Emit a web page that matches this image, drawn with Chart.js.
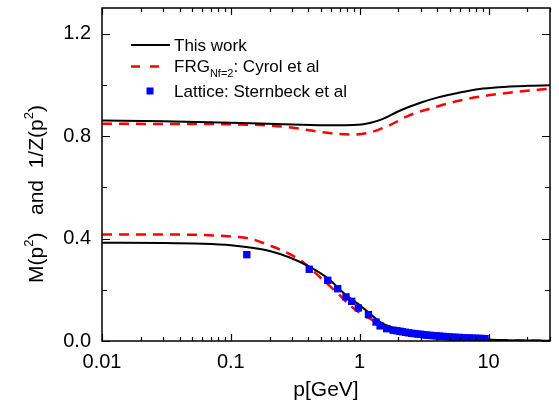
<!DOCTYPE html>
<html>
<head>
<meta charset="utf-8">
<title>M(p2) and 1/Z(p2)</title>
<script src="https://cdn.jsdelivr.net/npm/chart.js@4.4.1/dist/chart.umd.min.js"></script>
<style>
    body { margin: 0; background: #ffffff; }
    #chart_mass { display: block; }
</style>
</head>
<body>
<canvas id="chart_mass" width="559" height="407"></canvas>
<script>
    // 1/Z(p^2), this work
    const zThisP = [0.01, 0.03, 0.1, 0.3, 0.6, 0.9, 1.2, 1.5, 2, 3, 4, 6, 8.5, 12, 20, 30];
    const zThisV = [0.861, 0.858, 0.852, 0.845, 0.842, 0.843, 0.851, 0.866, 0.897, 0.931, 0.950, 0.970, 0.984, 0.991, 0.996, 0.998];
    // 1/Z(p^2), FRG Nf=2
    const zFrgP = [0.01, 0.05, 0.1, 0.2, 0.34, 0.49, 0.7, 0.9, 1.2, 1.7, 2.4, 3.5, 6, 10, 16, 30];
    const zFrgV = [0.848, 0.847, 0.846, 0.841, 0.829, 0.816, 0.808, 0.806, 0.814, 0.842, 0.880, 0.907, 0.939, 0.959, 0.972, 0.985];
    // M(p^2), this work
    const mThisP = [0.01, 0.03, 0.06, 0.1, 0.15, 0.2, 0.29, 0.41, 0.57, 0.79, 1.0, 1.2, 1.44, 1.75, 2.2, 3.0, 4.5, 7, 12, 30];
    const mThisV = [0.384, 0.383, 0.380, 0.374, 0.363, 0.351, 0.325, 0.289, 0.243, 0.178, 0.140, 0.107, 0.074, 0.055, 0.042, 0.028, 0.016, 0.009, 0.004, 0.001];
    // M(p^2), FRG Nf=2
    const mFrgP = [0.01, 0.05, 0.1, 0.14, 0.2, 0.29, 0.365, 0.49, 0.66, 0.87, 1.2, 1.6, 2.2, 3.2, 5, 10, 30];
    const mFrgV = [0.416, 0.415, 0.408, 0.400, 0.373, 0.338, 0.306, 0.250, 0.191, 0.133, 0.087, 0.058, 0.036, 0.021, 0.011, 0.004, 0.001];
    // lattice, Sternbeck et al
    const latticeP = [0.133, 0.406, 0.565, 0.675, 0.783, 0.867, 0.976, 1.17, 1.34, 1.44, 1.62, 1.82,
        1.95, 2.05, 2.15, 2.27, 2.4, 2.53, 2.67, 2.82, 2.98, 3.15, 3.33, 3.52, 3.72, 3.94, 4.17,
        4.41, 4.67, 4.95, 5.25, 5.56, 5.9, 6.25, 6.63, 7.03, 7.45, 7.9, 8.38, 8.88, 9.4];
    const latticeV = [0.337, 0.280, 0.237, 0.204, 0.172, 0.155, 0.129, 0.103, 0.074, 0.059, 0.048, 0.042,
        0.040, 0.038, 0.036, 0.034, 0.032, 0.030, 0.029, 0.027, 0.026, 0.024, 0.023, 0.022, 0.021, 0.020, 0.019,
        0.018, 0.017, 0.016, 0.015, 0.014, 0.014, 0.013, 0.012, 0.012, 0.011, 0.011, 0.010, 0.010, 0.009];

    const xTickLabels = ['0.01', '0.1', '1', '10'];
    const yTickLabels = ['0.0', '0.4', '0.8', '1.2'];

    const FONT = '"Liberation Sans", Arial, Helvetica, sans-serif';

    function toXY(p, v) {
        return p.map((x, i) => ({ x: x, y: v[i] }));
    }

    function isDecade(value) {
        const l = Math.log10(value);
        return Math.abs(l - Math.round(l)) < 1e-6;
    }

    // only 1..9 x 10^n get a tick mark
    function isLogStep(value) {
        const s = value / Math.pow(10, Math.floor(Math.log10(value) + 1e-9));
        return Math.abs(s - Math.round(s)) < 1e-6;
    }

    function isYMajor(value) {
        return yTickLabels.some(t => Math.abs(parseFloat(t) - value) < 1e-6);
    }

    // frame with inward ticks on all four sides, legend, axis titles
    const framePlugin = {
        id: 'frame',
        afterDraw(chart) {
            const ctx = chart.ctx;
            const a = chart.chartArea;
            const sx = chart.scales.x;
            const sy = chart.scales.y;
            ctx.save();
            ctx.strokeStyle = '#000000';
            ctx.lineWidth = 1.5;
            ctx.strokeRect(a.left, a.top, a.right - a.left, a.bottom - a.top);
            ctx.lineWidth = 1.2;
            ctx.beginPath();
            sx.ticks.forEach(t => {
                if (!isLogStep(t.value)) return;
                const px = Math.round(sx.getPixelForValue(t.value)) + 0.5;
                const len = isDecade(t.value) ? 7 : 4;
                ctx.moveTo(px, a.bottom); ctx.lineTo(px, a.bottom - len);
                ctx.moveTo(px, a.top); ctx.lineTo(px, a.top + len);
            });
            sy.ticks.forEach(t => {
                if (t.value > 1.21) return;
                const py = Math.round(sy.getPixelForValue(t.value)) + 0.5;
                const len = isYMajor(t.value) ? 8 : 5;
                ctx.moveTo(a.left, py); ctx.lineTo(a.left + len, py);
                ctx.moveTo(a.right, py); ctx.lineTo(a.right - len, py);
            });
            ctx.stroke();

            // legend
            ctx.fillStyle = '#000000';
            ctx.textBaseline = 'alphabetic';
            ctx.textAlign = 'left';
            ctx.lineWidth = 2;
            ctx.beginPath();
            ctx.moveTo(131, 45); ctx.lineTo(170, 45);
            ctx.stroke();
            ctx.font = '17px ' + FONT;
            ctx.fillText('This work', 174, 51);

            ctx.strokeStyle = '#ff0000';
            ctx.lineWidth = 2.5;
            ctx.setLineDash([9, 10]);
            ctx.beginPath();
            ctx.moveTo(131, 66.5); ctx.lineTo(162, 66.5);
            ctx.stroke();
            ctx.setLineDash([]);
            let tx = 174;
            ctx.fillText('FRG', tx, 72);
            tx += ctx.measureText('FRG').width;
            ctx.font = '11px ' + FONT;
            ctx.fillText('Nf=2', tx, 77);
            tx += ctx.measureText('Nf=2').width;
            ctx.font = '17px ' + FONT;
            ctx.fillText(': Cyrol et al', tx, 72);

            ctx.fillStyle = '#0000ff';
            ctx.fillRect(146.5, 87.5, 7, 7);
            ctx.fillStyle = '#000000';
            ctx.fillText('Lattice: Sternbeck et al', 174, 97);

            // x title
            ctx.font = '21px ' + FONT;
            ctx.textAlign = 'center';
            ctx.fillText('p[GeV]', (a.left + a.right) / 2, 396);

            // y title with superscripts, reading upward
            const parts = [['M(p', 21, 0], ['2', 13, 10], [')   and  1/Z(p', 21, 0], ['2', 13, 10], [')', 21, 0]];
            let total = 0;
            parts.forEach(p => { ctx.font = p[1] + 'px ' + FONT; total += ctx.measureText(p[0]).width; });
            ctx.translate(43, 194);
            ctx.rotate(-Math.PI / 2);
            ctx.textAlign = 'left';
            let ux = -total / 2;
            parts.forEach(p => {
                ctx.font = p[1] + 'px ' + FONT;
                ctx.fillText(p[0], ux, -p[2]);
                ux += ctx.measureText(p[0]).width;
            });
            ctx.restore();
        }
    };

    const lineStyle = { pointRadius: 0, fill: false, cubicInterpolationMode: 'monotone' };

    const ctxM = document.getElementById('chart_mass');
    new Chart(ctxM, {
        type: 'line',
        data: {
            datasets: [{
                label: 'Lattice: Sternbeck et al',
                data: toXY(latticeP, latticeV),
                showLine: false,
                pointStyle: 'rect',
                pointRadius: 5.2,
                pointBorderWidth: 0,
                pointBackgroundColor: '#0000ff',
                pointBorderColor: '#0000ff'
            }, {
                label: 'This work',
                data: toXY(mThisP, mThisV),
                borderColor: '#000000',
                borderWidth: 2,
                ...lineStyle
            }, {
                label: 'This work',
                data: toXY(zThisP, zThisV),
                borderColor: '#000000',
                borderWidth: 2,
                ...lineStyle
            }, {
                label: 'FRG Nf=2: Cyrol et al',
                data: toXY(mFrgP, mFrgV),
                borderColor: '#ff0000',
                borderWidth: 2.5,
                borderDash: [10, 7],
                ...lineStyle
            }, {
                label: 'FRG Nf=2: Cyrol et al',
                data: toXY(zFrgP, zFrgV),
                borderColor: '#ff0000',
                borderWidth: 2.5,
                borderDash: [10, 7],
                ...lineStyle
            }]
        },
        options: {
            responsive: false,
            animation: false,
            layout: {
                padding: { top: 8, right: 9, left: 0, bottom: 0 }
            },
            plugins: {
                legend: { display: false },
                tooltip: { enabled: false }
            },
            scales: {
                x: {
                    type: 'logarithmic',
                    min: 0.01,
                    max: 30,
                    grid: { display: false, drawTicks: false },
                    border: { display: false },
                    ticks: {
                        autoSkip: false,
                        maxRotation: 0,
                        padding: 9,
                        color: '#000000',
                        font: { family: FONT, size: 20 },
                        callback: function (value) {
                            if (!isDecade(value)) return '';
                            const i = Math.round(Math.log10(value)) + 2;
                            return xTickLabels[i] || '';
                        }
                    },
                    afterFit: function (scale) {
                        scale.height = 66;
                        scale.paddingLeft = 0;
                        scale.paddingRight = 0;
                    }
                },
                y: {
                    min: 0,
                    max: 1.3,
                    grid: { display: false, drawTicks: false },
                    border: { display: false },
                    ticks: {
                        stepSize: 0.2,
                        autoSkip: false,
                        padding: 11,
                        color: '#000000',
                        font: { family: FONT, size: 20 },
                        callback: function (value) {
                            const t = yTickLabels.find(s => Math.abs(parseFloat(s) - value) < 1e-6);
                            return t || '';
                        }
                    },
                    afterFit: function (scale) {
                        scale.width = 102;
                        scale.paddingTop = 0;
                        scale.paddingBottom = 0;
                    }
                }
            }
        },
        plugins: [framePlugin]
    });
</script>
</body>
</html>
